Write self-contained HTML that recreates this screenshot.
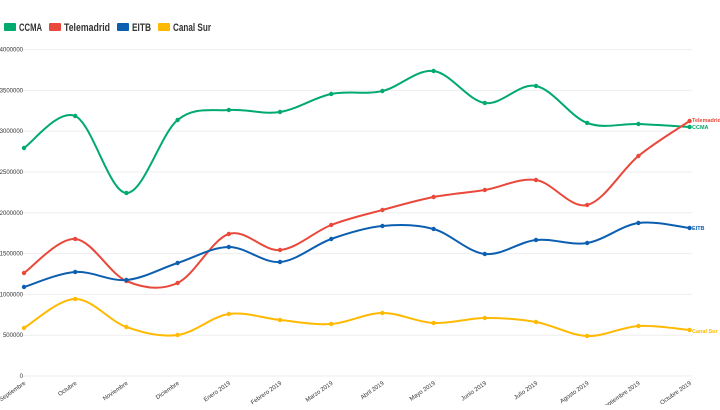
<!DOCTYPE html>
<html><head><meta charset="utf-8"><style>
body{margin:0;background:#fff;width:720px;height:405px;overflow:hidden;font-family:"Liberation Sans",sans-serif}
</style></head><body>
<svg id="c" width="720" height="405" xmlns="http://www.w3.org/2000/svg">
<g font-size="11" fill="#333" font-weight="bold">
<rect x="4" y="23" width="12" height="8" fill="#00a96e" rx="1"/><text x="19" y="31" textLength="23" lengthAdjust="spacingAndGlyphs">CCMA</text>
<rect x="49" y="23" width="12" height="8" fill="#e9483a" rx="1"/><text x="64" y="31" textLength="46" lengthAdjust="spacingAndGlyphs">Telemadrid</text>
<rect x="117" y="23" width="12" height="8" fill="#0c5fb0" rx="1"/><text x="132" y="31" textLength="19" lengthAdjust="spacingAndGlyphs">EITB</text>
<rect x="158" y="23" width="12" height="8" fill="#ffb900" rx="1"/><text x="173" y="31" textLength="38" lengthAdjust="spacingAndGlyphs">Canal Sur</text>
</g>
<g id="grid" stroke="#eee" stroke-width="1"></g>
<g id="lbl" font-size="6" fill="#333"></g>
<g id="series"></g>
</svg>
<script>
var s=document.getElementById('c'),ns='http://www.w3.org/2000/svg';
function el(t,a,p,txt){var e=document.createElementNS(ns,t);for(var k in a)e.setAttribute(k,a[k]);if(txt)e.textContent=txt;document.getElementById(p).appendChild(e);return e;}
for(var i=0;i<=8;i++){var y=376-i*40.8;
el('line',{x1:22,x2:692,y1:y,y2:y},'grid');
el('text',{x:23,y:y+2,'text-anchor':'end'},'lbl',(i*500000).toString());}
var months=['Septiembre','Octubre','Noviembre','Diciembre','Enero 2019','Febrero 2019','Marzo 2019','Abril 2019','Mayo 2019','Junio 2019','Julio 2019','Agosto 2019','Septiembre 2019','Octubre 2019'];
var X=[];for(i=0;i<14;i++)X.push(24+i*51.2);
months.forEach(function(m,i){el('text',{x:X[i]+2,y:384,'text-anchor':'end',transform:'rotate(-35 '+(X[i]+2)+' 384)'},'lbl',m);});
var D=[['#00a96e',[148,116,193,120,110,112,94,91,71,103,86,123,124,127],'CCMA',129],
['#e9483a',[273,239,281,283,234,250,225,210,197,190,180,205,156,121],'Telemadrid',122],
['#0c5fb0',[287,272,280,263,247,262,239,226,229,254,240,243,223,228],'EITB',230],
['#ffb900',[328,299,327,335,314,320,324,313,323,318,322,336,326,330],'Canal Sur',333]];
D.forEach(function(d){var Y=d[1],p='M'+X[0]+','+Y[0];
for(var i=0;i<13;i++){var x0=X[Math.max(i-1,0)],y0=Y[Math.max(i-1,0)],x1=X[i],y1=Y[i],x2=X[i+1],y2=Y[i+1],x3=X[Math.min(i+2,13)],y3=Y[Math.min(i+2,13)];
p+=' C'+(x1+(x2-x0)/6)+','+(y1+(y2-y0)/6)+' '+(x2-(x3-x1)/6)+','+(y2-(y3-y1)/6)+' '+x2+','+y2;}
el('path',{d:p,fill:'none',stroke:d[0],'stroke-width':2},'series');
for(i=0;i<14;i++)el('circle',{cx:X[i],cy:Y[i],r:2.2,fill:d[0]},'series');
el('text',{x:692,y:d[3],'font-size':5.5,fill:d[0],'font-weight':'bold'},'series',d[2]);});
</script>
</body></html>
